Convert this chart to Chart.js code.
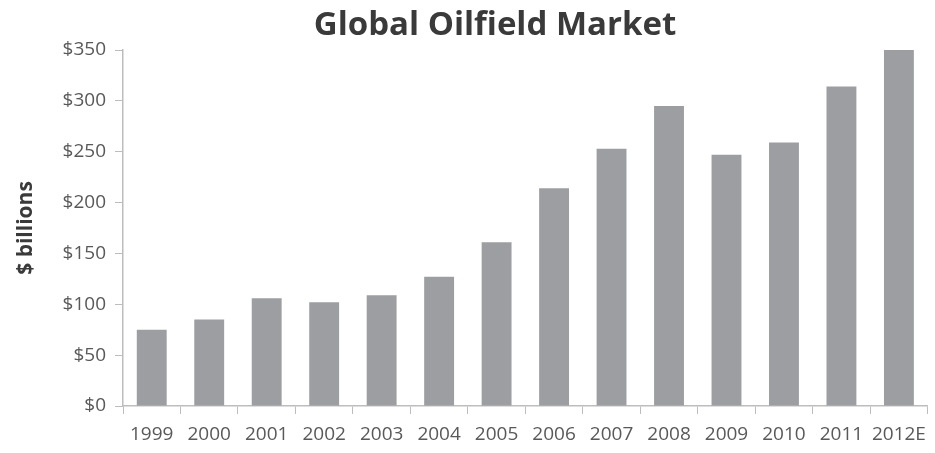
<!DOCTYPE html>
<html>
<head>
<meta charset="utf-8">
<script src="https://cdn.jsdelivr.net/npm/chart.js@4"></script>
<style>
  html, body { margin: 0; padding: 0; background: #fff; }
  .wrap { position: relative; width: 935px; height: 453px; }
  #titulo {
    position: absolute; top: 0px; left: 270px; width: 450px;
    text-align: center; font: bold 33px "Open Sans", sans-serif; color: #3a3a3a;
  }
</style>
</head>
<body>
<div class="wrap">
  <div id="titulo">Global Oilfield Market</div>
  <canvas id="grafico" width="935" height="453"></canvas>
</div>
<script>
// dados
const anos = ['1999', '2000', '2001', '2002', '2003', '2004', '2005', '2006', '2007', '2008', '2009', '2010', '2011', '2012E'];
const mercado = [75, 85, 106, 102, 109, 127, 161, 214, 253, 295, 247, 259, 314, 350];
const ticksY = [0, 50, 100, 150, 200, 250, 300, 350];

const corEixo = '#bdbdbd';
const corTexto = '#595959';

new Chart(document.getElementById('grafico'), {
  type: 'bar',
  data: {
    labels: anos,
    datasets: [{
      label: '$ billions',
      data: mercado,
      backgroundColor: '#9d9ea2',
      categoryPercentage: 1,
      barPercentage: 0.52
    }]
  },
  options: {
    responsive: false,
    animation: false,
    layout: { padding: { top: 50, right: 2, left: 0, bottom: 0 } },
    plugins: {
      legend: { display: false },
      tooltip: { enabled: false }
    },
    scales: {
      x: {
        grid: { offset: true, drawOnChartArea: false, drawTicks: true, tickLength: 8, color: corEixo },
        border: { color: corEixo, width: 1.5 },
        ticks: { color: corTexto, font: { family: 'Open Sans', size: 19 }, padding: 9, maxRotation: 0 },
        afterFit: (scale) => { scale.height = 47; }
      },
      y: {
        min: 0,
        max: 350,
        afterBuildTicks: (scale) => { scale.ticks = ticksY.map(v => ({ value: v })); },
        grid: { drawOnChartArea: false, drawTicks: true, tickLength: 8, color: corEixo },
        border: { color: corEixo, width: 1.5 },
        ticks: {
          color: corTexto,
          font: { family: 'Open Sans', size: 19 },
          padding: 9,
          callback: (v) => '$' + v
        },
        title: {
          display: true,
          text: '$ billions',
          color: '#3a3a3a',
          font: { family: 'Open Sans', size: 21, weight: 'bold' },
          padding: { top: 13, bottom: 0 }
        },
        afterFit: (scale) => { scale.width = 123; }
      }
    }
  }
});
</script>
</body>
</html>
